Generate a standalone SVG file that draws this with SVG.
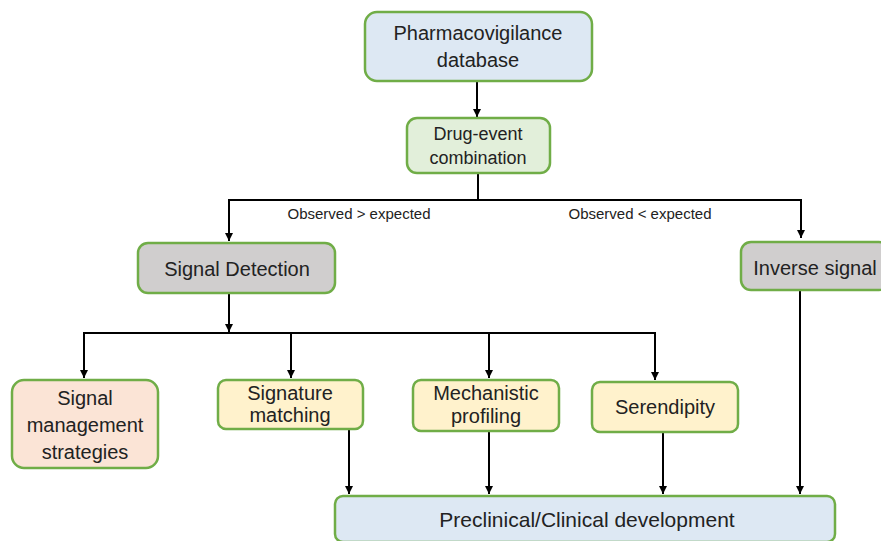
<svg xmlns="http://www.w3.org/2000/svg" width="881" height="541" viewBox="0 0 881 541">
<defs>
<marker id="ah" viewBox="0 0 10 10" refX="10" refY="5" markerWidth="8" markerHeight="8" markerUnits="userSpaceOnUse" orient="auto">
<path d="M0,0 L10,5 L0,10 z" fill="#000"/>
</marker>
<style>
.box{stroke:#70ad47;stroke-width:2.5}
.blue{fill:#dde8f3}
.green{fill:#e2efda}
.gray{fill:#d0cece}
.peach{fill:#fbe4d6}
.yellow{fill:#fff2cc}
.t{font-family:"Liberation Sans",Arial,sans-serif;font-size:20px;fill:#222;text-anchor:middle}
.lbl{font-family:"Liberation Sans",Arial,sans-serif;font-size:15px;fill:#222;text-anchor:middle}
.c{fill:none;stroke:#000;stroke-width:2}
</style>
</defs>
<g id="connectors">
<line class="c" x1="477" y1="82" x2="477" y2="117" marker-end="url(#ah)"/>
<polyline class="c" points="478,173 478,200"/>
<polyline class="c" points="229,238 229,200 801,200 801,238" marker-end="url(#ah)"/>
<line class="c" x1="229" y1="200" x2="229" y2="241" marker-end="url(#ah)"/>
<line class="c" x1="229" y1="293" x2="229" y2="332" marker-end="url(#ah)"/>
<polyline class="c" points="83,333 656,333"/>
<line class="c" x1="84" y1="333" x2="84" y2="378" marker-end="url(#ah)"/>
<line class="c" x1="291" y1="333" x2="291" y2="378" marker-end="url(#ah)"/>
<line class="c" x1="489" y1="333" x2="489" y2="378" marker-end="url(#ah)"/>
<line class="c" x1="655" y1="333" x2="655" y2="380" marker-end="url(#ah)"/>
<line class="c" x1="349" y1="429" x2="349" y2="494" marker-end="url(#ah)"/>
<line class="c" x1="489" y1="431" x2="489" y2="494" marker-end="url(#ah)"/>
<line class="c" x1="663" y1="432" x2="663" y2="494" marker-end="url(#ah)"/>
<line class="c" x1="800" y1="290" x2="800" y2="494" marker-end="url(#ah)"/>
<text class="lbl" x="359" y="219">Observed &gt; expected</text>
<text class="lbl" x="640" y="219">Observed &lt; expected</text>
</g>
<g id="pharmacovigilance">
<rect class="box blue" x="365" y="12" width="227" height="69" rx="12"/>
<text class="t" x="478" y="40">Pharmacovigilance</text>
<text class="t" x="478" y="67">database</text>
</g>
<g id="drug-event">
<rect class="box green" x="407" y="118" width="143" height="55" rx="10"/>
<text class="t" x="478" y="140" style="font-size:18px">Drug-event</text>
<text class="t" x="478" y="164" style="font-size:18px">combination</text>
</g>
<g id="signal-detection">
<rect class="box gray" x="138" y="243" width="197" height="50" rx="10"/>
<text class="t" x="237" y="276">Signal Detection</text>
</g>
<g id="inverse-signal">
<rect class="box gray" x="741" y="242" width="148" height="48" rx="10"/>
<text class="t" x="815" y="275">Inverse signal</text>
</g>
<g id="signal-management">
<rect class="box peach" x="12" y="380" width="146" height="88" rx="12"/>
<text class="t" x="85" y="405">Signal</text>
<text class="t" x="85" y="432">management</text>
<text class="t" x="85" y="459">strategies</text>
</g>
<g id="signature-matching">
<rect class="box yellow" x="218" y="380" width="145" height="49" rx="8"/>
<text class="t" x="290" y="400">Signature</text>
<text class="t" x="290" y="422">matching</text>
</g>
<g id="mechanistic-profiling">
<rect class="box yellow" x="413" y="380" width="146" height="51" rx="8"/>
<text class="t" x="486" y="400">Mechanistic</text>
<text class="t" x="486" y="423">profiling</text>
</g>
<g id="serendipity">
<rect class="box yellow" x="592" y="382" width="146" height="50" rx="8"/>
<text class="t" x="665" y="414">Serendipity</text>
</g>
<g id="preclinical">
<rect class="box blue" x="335" y="496" width="500" height="46" rx="8"/>
<text class="t" x="587" y="527" style="font-size:21px">Preclinical/Clinical development</text>
</g>
</svg>
